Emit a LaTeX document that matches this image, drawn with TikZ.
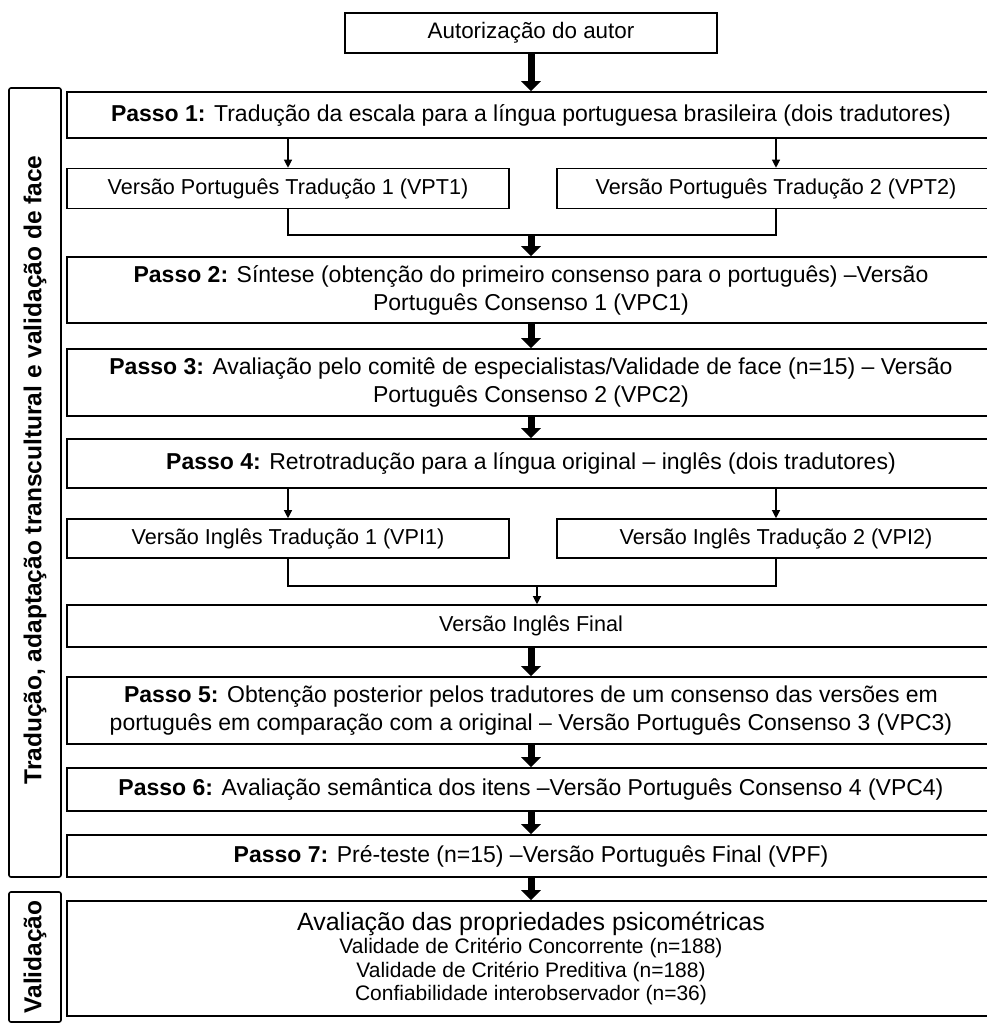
\documentclass[tikz,border=0pt]{standalone}
\usepackage{fontspec}
\setmainfont{Liberation Sans}
\usetikzlibrary{arrows.meta,positioning}

\begin{document}
\begin{tikzpicture}[x=1pt, y=-1pt,
    caixa/.style={draw, line width=1.6pt, inner sep=0pt, align=center,
        font=\fontsize{23}{28}\selectfont},
    versao/.style={caixa, font=\fontsize{21.6}{26}\selectfont},
    grupo/.style={draw, line width=1.6pt, rounded corners=2pt, inner sep=0pt,
        font=\fontsize{24.5}{28}\selectfont\bfseries},
    seta/.style={-{Triangle[width=19pt, length=10pt]}, line width=7pt},
    fina/.style={-{Triangle[width=8pt, length=8pt]}, line width=1.2pt}]
    \useasboundingbox (0,0) rectangle (987,1026);
    \node[caixa, minimum width=372, minimum height=40, font=\fontsize{22.4}{26}\selectfont]
        (autor) at (531,33) {Autorização do autor};
    \node[caixa, minimum width=928, minimum height=46] (p1) at (531,115)
        {\textbf{Passo 1:} Tradução da escala para a língua portuguesa brasileira (dois tradutores)};
    \node[versao, minimum width=442, minimum height=40] (vpt1) at (288,188.5)
        {Versão Português Tradução 1 (VPT1)};
    \node[versao, minimum width=438, minimum height=40] (vpt2) at (776,188.5)
        {Versão Português Tradução 2 (VPT2)};
    \node[caixa, minimum width=928, minimum height=66] (p2) at (531,290)
        {\textbf{Passo 2:} Síntese (obtenção do primeiro consenso para o português) –Versão\\
        Português Consenso 1 (VPC1)};
    \node[caixa, minimum width=928, minimum height=67] (p3) at (531,382.5)
        {\textbf{Passo 3:} Avaliação pelo comitê de especialistas/Validade de face (n=15) – Versão\\
        Português Consenso 2 (VPC2)};
    \node[caixa, minimum width=928, minimum height=49] (p4) at (531,463.5)
        {\textbf{Passo 4:} Retrotradução para a língua original – inglês (dois tradutores)};
    \node[versao, minimum width=442, minimum height=39] (vpi1) at (288,538.5)
        {Versão Inglês Tradução 1 (VPI1)};
    \node[versao, minimum width=438, minimum height=39] (vpi2) at (776,538.5)
        {Versão Inglês Tradução 2 (VPI2)};
    \node[versao, minimum width=928, minimum height=42] (fim) at (531,626)
        {Versão Inglês Final};
    \node[caixa, minimum width=928, minimum height=67] (p5) at (531,710.5)
        {\textbf{Passo 5:} Obtenção posterior pelos tradutores de um consenso das versões em\\
        português em comparação com a original – Versão Português Consenso 3 (VPC3)};
    \node[caixa, minimum width=928, minimum height=43] (p6) at (531,789.5)
        {\textbf{Passo 6:} Avaliação semântica dos itens –Versão Português Consenso 4 (VPC4)};
    \node[caixa, minimum width=928, minimum height=42] (p7) at (531,856)
        {\textbf{Passo 7:} Pré-teste (n=15) –Versão Português Final (VPF)};
    \node[caixa, minimum width=928, minimum height=115, font=\fontsize{21}{23.5}\selectfont]
        (val) at (531,958.5)
        {{\fontsize{25}{29}\selectfont Avaliação das propriedades psicométricas}\\
        Validade de Critério Concorrente (n=188)\\
        Validade de Critério Preditiva (n=188)\\
        Confiabilidade interobservador (n=36)};
    \node[grupo, minimum width=52, minimum height=789] (etapa1) at (35,482.5) {};
    \node[rotate=90, font=\fontsize{24.5}{28}\selectfont\bfseries] (rot1) at (35,470)
        {Tradução, adaptação transcultural e validação de face};
    \node[grupo, minimum width=52, minimum height=130] (etapa2) at (35,957) {};
    \node[rotate=90, font=\fontsize{24.5}{28}\selectfont\bfseries] (rot2) at (etapa2.center)
        {Validação};
    \coordinate (j1) at (531,235);
    \coordinate (j2) at (537,586);
    \draw[seta] (autor) -- (p1);
    \draw[fina] (p1.south -| vpt1) -- (vpt1);
    \draw[fina] (p1.south -| vpt2) -- (vpt2);
    \draw[line width=1.2pt] (vpt1) |- (j1) -| (vpt2);
    \draw[seta] (j1) -- (p2);
    \draw[seta] (p2) -- (p3);
    \draw[seta] (p3) -- (p4);
    \draw[fina] (p4.south -| vpi1) -- (vpi1);
    \draw[fina] (p4.south -| vpi2) -- (vpi2);
    \draw[line width=1.2pt] (vpi1) |- (j2) -| (vpi2);
    \draw[fina] (j2) -- (j2 |- fim.north);
    \draw[seta] (fim) -- (p5);
    \draw[seta] (p5) -- (p6);
    \draw[seta] (p6) -- (p7);
    \draw[seta] (p7) -- (val);
\end{tikzpicture}
\end{document}
